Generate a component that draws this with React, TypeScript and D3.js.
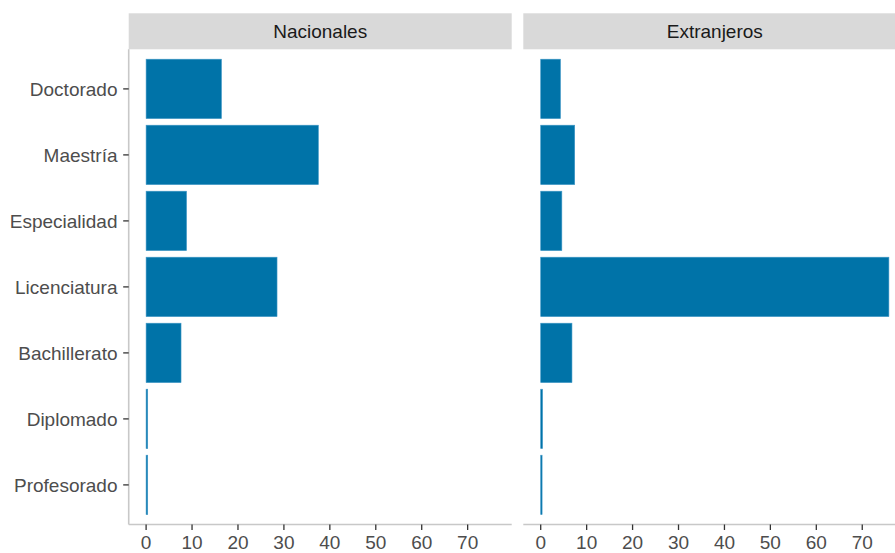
import React from "react";
import * as d3 from "d3";

const categories = ["Doctorado", "Maestría", "Especialidad", "Licenciatura", "Bachillerato", "Diplomado", "Profesorado"];
const facets = ["Nacionales", "Extranjeros"];
const nacionales = [16.4, 37.5, 8.8, 28.5, 7.6, 0.35, 0.35];
const extranjeros = [4.3, 7.4, 4.6, 75.8, 6.8, 0.4, 0.3];
const xTicks = [0, 10, 20, 30, 40, 50, 60, 70];

const W = 895;
const H = 553;
const panelTop = 49.3;
const panelBottom = 524.5;
const stripTop = 13.3;
const panels = [
  { x0: 128.7, x1: 511.7, values: nacionales, name: facets[0] },
  { x0: 523.3, x1: 906.3, values: extranjeros, name: facets[1] },
];
const FILL = "#0073A8";
const FONT = "Liberation Sans, Arial, sans-serif";

export default function App() {
  const maxV = d3.max([...nacionales, ...extranjeros]) as number;
  const expand = maxV * 0.05;
  const y = d3.scalePoint<string>().domain(categories).range([panelTop, panelBottom]).padding(0.6);
  const step = y.step();
  const barH = step * 0.9;
  return (
    <svg width={W} height={H} style={{ position: "absolute", left: 0, top: 0 }} fontFamily={FONT}>
      <rect width={W} height={H} fill="#fff" />
      {panels.map((p, pi) => {
        const x = d3.scaleLinear().domain([-expand, maxV + expand]).range([p.x0, p.x1]);
        return (
          <g key={pi}>
            <rect x={p.x0} y={stripTop} width={p.x1 - p.x0} height={panelTop - stripTop} fill="#d9d9d9" />
            <text x={(p.x0 + p.x1) / 2 - (pi === 1 ? 0 : 0)} y={(stripTop + panelTop) / 2} dy="0.35em" textAnchor="middle" fontSize={19} fill="#1a1a1a">
              {p.name}
            </text>
            {categories.map((c, i) => (
              <rect
                key={c}
                x={x(0)}
                y={(y(c) as number) - barH / 2}
                width={Math.max(0, x(p.values[i]) - x(0))}
                height={barH}
                fill={FILL}
                stroke="#3f97c6"
                strokeWidth={0.6}
              />
            ))}
            <line x1={p.x0} x2={p.x1} y1={panelBottom} y2={panelBottom} stroke="#c8c8c8" strokeWidth={1.6} />
            {xTicks.map((t) => (
              <g key={t}>
                <line x1={x(t)} x2={x(t)} y1={panelBottom} y2={panelBottom + 5.5} stroke="#333" strokeWidth={1.3} />
                <text x={x(t)} y={549} textAnchor="middle" fontSize={19} fill="#4d4d4d">
                  {t}
                </text>
              </g>
            ))}
            {pi === 0 && (
              <g>
                <line x1={p.x0} x2={p.x0} y1={panelTop} y2={panelBottom} stroke="#c8c8c8" strokeWidth={1.6} />
                {categories.map((c) => (
                  <g key={c}>
                    <line x1={p.x0 - 5.5} x2={p.x0} y1={y(c) as number} y2={y(c) as number} stroke="#333" strokeWidth={1.3} />
                    <text x={117.5} y={y(c) as number} dy="0.35em" textAnchor="end" fontSize={19} fill="#4d4d4d">
                      {c}
                    </text>
                  </g>
                ))}
              </g>
            )}
          </g>
        );
      })}
    </svg>
  );
}
